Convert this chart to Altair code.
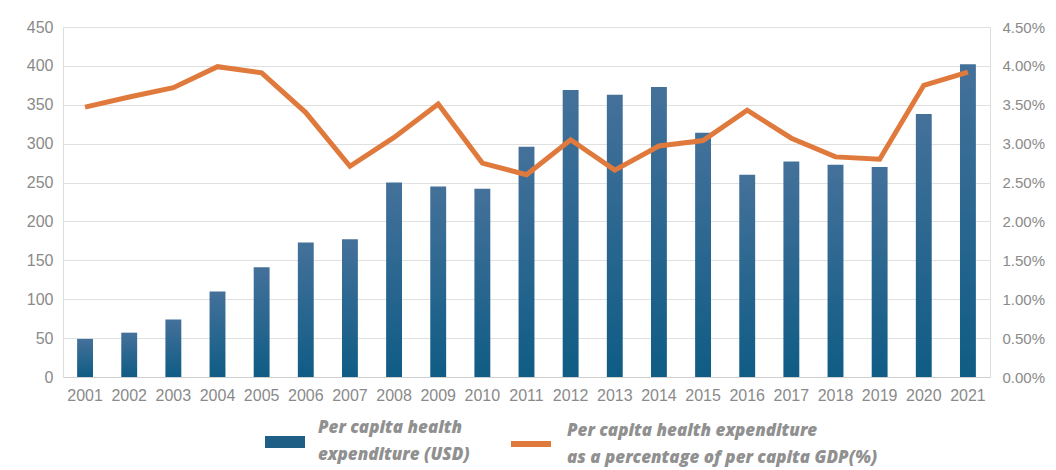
import altair as alt
import pandas as pd

years = [str(y) for y in range(2001, 2022)]
expenditure_usd = [49, 57, 74, 110, 141, 173, 177, 250, 245, 242, 296, 369, 363, 373,
                   314, 260, 277, 273, 270, 338, 402]
pct_gdp = [3.47, 3.60, 3.72, 3.99, 3.91, 3.40, 2.71, 3.08, 3.51, 2.75, 2.60, 3.05, 2.66, 2.97,
           3.04, 3.43, 3.07, 2.83, 2.80, 3.75, 3.92]

bar_name = "Per capita health|expenditure (USD)"
line_name = "Per capita health expenditure|as a percentage of per capita GDP(%)"

df = pd.DataFrame({
    "year": years,
    "usd": expenditure_usd,
    "pct": [p / 100 for p in pct_gdp],
    "bar_series": bar_name,
    "line_series": line_name,
})

GRAY = "#8a8a8a"
BLUE = "#1f5f86"
ORANGE = "#e07a3c"

x = alt.X("year:O", title=None,
          scale=alt.Scale(paddingInner=0.64, paddingOuter=0.32),
          axis=alt.Axis(labelAngle=0, labelFontSize=16, labelColor=GRAY, labelFont="Liberation Sans",
                        domainColor="#d0d0d0", ticks=False, labelPadding=10))

legend_common = dict(orient="none", direction="vertical", title=None,
                     labelFont="Open Sans", labelFontSize=17, labelFontWeight=800,
                     labelFontStyle="italic", labelColor="#909090", labelExpr="split(datum.label, '|')",
                     labelLimit=500, labelOffset=13)

bars = alt.Chart(df).mark_bar(
    fill=alt.Gradient(gradient="linear",
                      stops=[alt.GradientStop(color="#44719a", offset=0),
                             alt.GradientStop(color="#0f5c85", offset=1)],
                      x1=0, x2=0, y1=0, y2=1)
).encode(
    x=x,
    y=alt.Y("usd:Q", title=None,
            scale=alt.Scale(domain=[0, 450]),
            axis=alt.Axis(values=list(range(0, 451, 50)), labelFontSize=16, labelColor=GRAY,
                          labelFont="Liberation Sans", gridColor="#e0e0e0", domain=False,
                          ticks=False, labelPadding=10)),
)

bar_legend = alt.Chart(df).mark_bar(opacity=0).encode(
    x=x,
    y=alt.Y("usd:Q", scale=alt.Scale(domain=[0, 450]), axis=None),
    fill=alt.Fill("bar_series:N",
                  scale=alt.Scale(domain=[bar_name], range=[BLUE]),
                  legend=alt.Legend(legendX=202, legendY=381,
                                    symbolType="M-1,0.4H1V1.0H-1Z",
                                    symbolSize=1600, symbolOpacity=1, symbolStrokeWidth=0,
                                    **legend_common)),
)

line = alt.Chart(df).mark_line(strokeWidth=5).encode(
    x=x,
    y=alt.Y("pct:Q", title=None,
            scale=alt.Scale(domain=[0, 0.045]),
            axis=alt.Axis(orient="right", format=".2%", values=[i * 0.005 for i in range(10)],
                          labelFontSize=15, labelColor=GRAY, labelFont="Liberation Sans",
                          grid=False, domain=False, ticks=False, labelPadding=12)),
    stroke=alt.Stroke("line_series:N",
                      scale=alt.Scale(domain=[line_name], range=[ORANGE]),
                      legend=alt.Legend(legendX=445, legendY=381,
                                        symbolType="M-1,0.65L1,0.65",
                                        symbolSize=1600, symbolStrokeWidth=6,
                                        **legend_common)),
)

chart = alt.layer(bars, bar_legend, line).resolve_scale(
    y="independent", fill="independent", stroke="independent"
).properties(
    width=927, height=350,
    autosize=alt.AutoSizeParams(type="none"),
    padding={"left": 63, "top": 27, "right": 66, "bottom": 93},
    background="white",
).configure_view(stroke=None).configure(
    style={"guide-label": {"lineHeight": 27}}
)

chart.save("out.html", embed_options={"renderer": "svg", "actions": False})
